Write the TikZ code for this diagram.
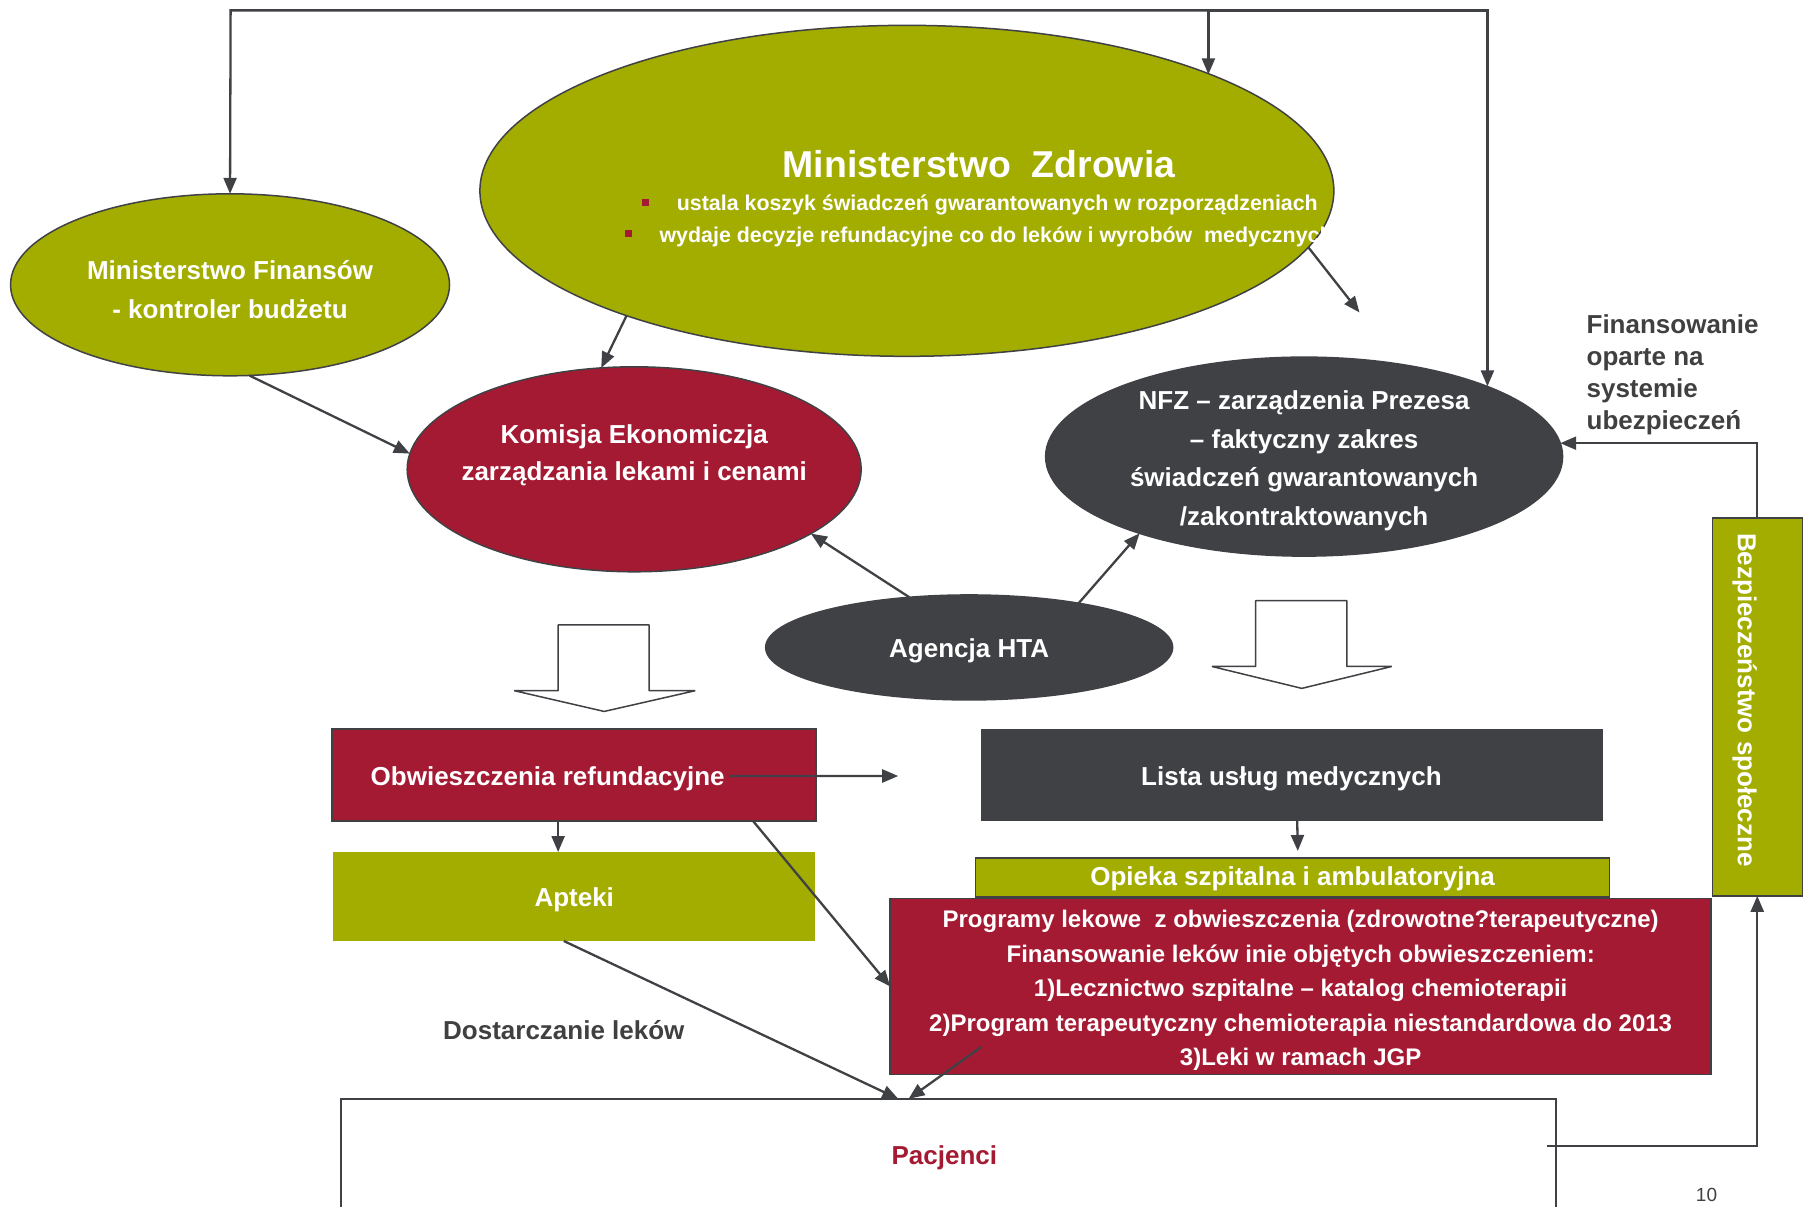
\documentclass[tikz,border=0pt]{standalone}
\usepackage{fontspec}
\setmainfont{Liberation Sans}
\usetikzlibrary{shapes.geometric,arrows.meta,calc}
\definecolor{olivec}{HTML}{A3AD00}
\definecolor{crim}{HTML}{A51A33}
\definecolor{dgray}{HTML}{404145}
\definecolor{tgray}{HTML}{404040}
\begin{document}
\begin{tikzpicture}[x=1.1531pt,y=-1.1531pt,
  every node/.style={inner sep=0pt, outer sep=0pt},
  ell/.style={ellipse, draw=dgray, line width=1.5pt},
  box/.style={rectangle, line width=1.5pt},
  conn/.style={draw=dgray, line width=2.3pt, -{Triangle[length=16pt,width=13pt]}},
  wt/.style={text=white, font=\fontsize{26}{38}\selectfont\bfseries, align=center},
  gt/.style={text=tgray, font=\fontsize{26}{32.3}\selectfont\bfseries, align=left},
  blockarrow/.style={draw=dgray, line width=1.5pt, fill=white, line join=bevel},
]
\useasboundingbox (0,0) rectangle (1568,1046);
\fill[white] (0,0) rectangle (1568,1046);

% ellipses
\node[ell, fill=olivec, minimum width=854pt, minimum height=331pt] (mz) at (786.5,165.5) {};
\node[ell, fill=olivec, minimum width=439pt, minimum height=182pt] (mf) at (199.5,247) {};
\node[ell, fill=crim, minimum width=454pt, minimum height=205pt] (kom) at (550,407) {};
\node[ell, fill=dgray, minimum width=517pt, minimum height=199pt] (nfz) at (1131,396) {};
\node[ell, fill=dgray, minimum width=407pt, minimum height=105pt] (hta) at (840.5,561.5) {};

% ellipse texts
\node[text=white, font=\fontsize{37.4}{44}\selectfont\bfseries] (mzt) at (849,142) {Ministerstwo\hspace{0.55em}Zdrowia};
\fill[crim] (557,172.5) rectangle (563,178.5);
\fill[crim] (542,199.5) rectangle (548,205.5);
\node[text=white, font=\fontsize{21.4}{25}\selectfont\bfseries, anchor=west] (mzb1) at (587,177.5) {ustala koszyk świadczeń gwarantowanych w rozporządzeniach};
\node[text=white, font=\fontsize{21.4}{25}\selectfont\bfseries, anchor=west] (mzb2) at (572,205.5) {wydaje decyzje refundacyjne co do leków i wyrobów\ \ medycznych};
\node[wt, font=\fontsize{26}{39.2}\selectfont\bfseries] (mft) at (199.5,251) {Ministerstwo Finansów\\- kontroler budżetu};
\node[wt, font=\fontsize{26}{37}\selectfont\bfseries] (komt) at (550,394.5) {Komisja Ekonomiczja\\zarządzania lekami i cenami};
\node[wt, font=\fontsize{26}{38.6}\selectfont\bfseries] (nfzt) at (1131,399.5) {NFZ – zarządzenia Prezesa\\– faktyczny zakres\\świadczeń gwarantowanych\\/zakontraktowanych};
\node[wt] (htat) at (840.5,564.5) {Agencja HTA};

% block arrows
\draw[blockarrow] (484,542) -- (563,542) -- (563,599) -- (603,599) -- (524,617) -- (446,599) -- (484,599) -- cycle;
\draw[blockarrow] (1089,521) -- (1168,521) -- (1168,578) -- (1207,578) -- (1129,597) -- (1051,578) -- (1089,578) -- cycle;

% boxes
\node[box, draw=dgray, fill=crim, minimum width=484pt, minimum height=92pt] (obw) at (498,672) {};
\node[wt] (obwt) at (475,675.5) {Obwieszczenia refundacyjne};
\node[box, fill=olivec, minimum width=482pt, minimum height=89pt] (apt) at (498,777.5) {};
\node[wt] (aptt) at (498,780.5) {Apteki};
\node[box, fill=dgray, minimum width=621.5pt, minimum height=92pt] (lista) at (1120.5,672) {};
\node[wt] (listat) at (1120,675.5) {Lista usług medycznych};
\node[box, draw=dgray, fill=olivec, minimum width=634pt, minimum height=39pt] (opi) at (1121,761) {};
\node[wt] (opit) at (1121,762.5) {Opieka szpitalna i ambulatoryjna};
\node[box, draw=dgray, fill=crim, minimum width=821pt, minimum height=176pt] (prog) at (1128,855.5) {};
\node[wt, font=\fontsize{24}{34.6}\selectfont\bfseries] (progt) at (1128,859) {Programy lekowe\ \ z obwieszczenia (zdrowotne?terapeutyczne)\\Finansowanie leków inie objętych obwieszczeniem:\\1)Lecznictwo szpitalne – katalog chemioterapii\\2)Program terapeutyczny chemioterapia niestandardowa do 2013\\3)Leki w ramach JGP};
\node[box, draw=dgray, line width=2pt, minimum width=1215pt, minimum height=131.5pt] (pac) at (823,1010) {};
\node[text=crim, font=\fontsize{26}{30}\selectfont\bfseries] (pact) at (819,1004) {Pacjenci};
\node[box, draw=dgray, fill=olivec, minimum width=90pt, minimum height=378pt] (bez) at (1524,613) {};
\node[wt, rotate=-90] (bezt) at (1513,607) {Bezpieczeństwo społeczne};

% free texts
\node[gt, anchor=west] (fin) at (1376,325) {Finansowanie\\oparte na\\systemie\\ubezpieczeń};
\node[gt] (dost) at (489,893) {Dostarczanie leków};
\node[text=tgray, font=\fontsize{19}{22}\selectfont] (pg) at (1480,1036) {10};

% coordinates
\coordinate (tl) at (200,9);
\coordinate (tm) at (1048,9);
\coordinate (tr) at (1290,9);
\coordinate (mzfree) at (1179,271);
\coordinate (obwR) at (779,673);

% connectors
\draw[conn] (tm) -- (tl) -- (mf.north);
\draw[conn] (tm) -- (tm |- mz.21.25);
\draw[conn] (tm) -- (tr) -- (tr |- nfz.21.08);
\draw[conn] (mz.204.5) -- (kom.108);
\draw[conn] (mz.-8) -- (mzfree);
\draw[conn] (mf.-78) -- (kom.176.5);
\draw[conn] (hta.140.9) -- (kom.-20.1);
\draw[conn] (hta.22.5) -- (nfz.205.7);
\draw[conn] (bez.north) |- (nfz.3.4);
\draw[conn] ($(pac.north east)+(-8,41)$) -| (bez.south);
\draw[conn] ([xshift=155.7pt,yshift=-1.2pt]obw.center) -- (obwR);
\draw[conn] ([xshift=-16.1pt]obw.south) -- ([xshift=-16.1pt]apt.north);
\draw[conn] ([xshift=178.7pt]obw.south) -- (prog.west);
\draw[conn] ([xshift=-10.4pt]apt.south) -- ([xshift=-50.7pt]pac.north);
\draw[conn] ([xshift=-319.4pt,yshift=-60.5pt]prog.center) -- ([xshift=-40.4pt]pac.north);
\draw[conn] ([xshift=5.2pt]lista.south) -- ([xshift=5.2pt,yshift=7pt]opi.north);
\end{tikzpicture}
\end{document}
